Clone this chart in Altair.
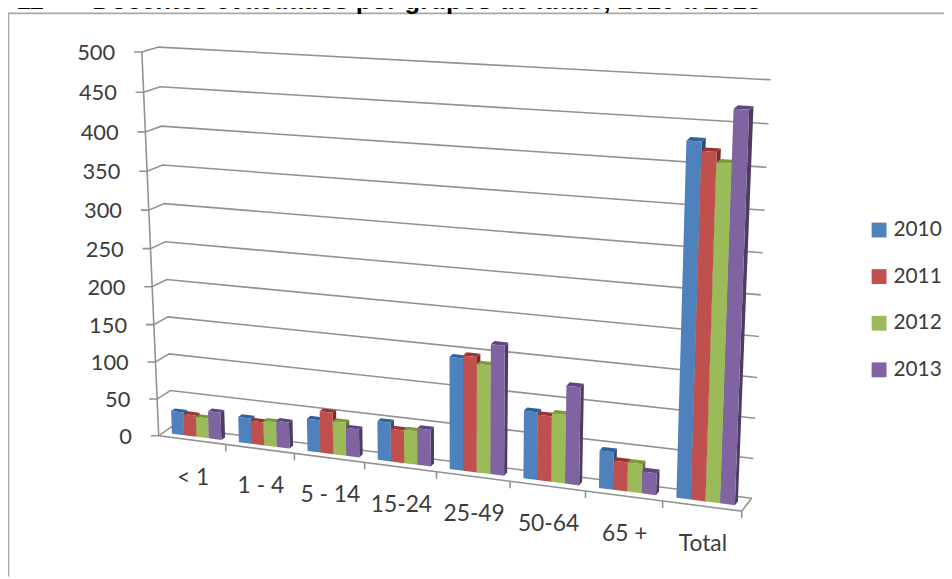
import numpy as np
import pandas as pd
import altair as alt

categories = ["< 1", "1 - 4", "5 - 14", "15-24", "25-49", "50-64", "65 +", "Total"]
years = ["2010", "2011", "2012", "2013"]
v2010 = [31, 34, 43, 51, 145, 87, 48, 434]
v2011 = [29, 31, 55, 43, 149, 84, 37, 423]
v2012 = [27, 33, 44, 44, 140, 88, 37, 411]
v2013 = [37, 35, 37, 48, 167, 125, 28, 474]
series = [v2010, v2011, v2012, v2013]
ticks = [0, 50, 100, 150, 200, 250, 300, 350, 400, 450, 500]
front_col = ["#4f81bd", "#c0504d", "#9bbb59", "#8064a2"]
top_col = ["#2f6299", "#9a3532", "#7a9a3c", "#5f4683"]
side_col = ["#2c4d75", "#772c2a", "#5f7530", "#4d3b62"]
GRID = "#929292"
TXT = "#3c3c3c"


def homography(c):
    # c: corners for (0,0), (1,0), (1,1), (0,1) in (u,v)
    uv = [(0, 0), (1, 0), (1, 1), (0, 1)]
    A, b = [], []
    for (u, v), (x, y) in zip(uv, c):
        A.append([u, v, 1, 0, 0, 0, -u * x, -v * x]); b.append(x)
        A.append([0, 0, 0, u, v, 1, -u * y, -v * y]); b.append(y)
    h = np.linalg.solve(np.array(A, float), np.array(b, float))
    return lambda u, v: np.array([h[0]*u + h[1]*v + h[2], h[3]*u + h[4]*v + h[5]]) / (h[6]*u + h[7]*v + 1)


FRONT = homography([(160, 437), (748, 513), (762, 90), (143, 50)])
BACK = homography([(173, 428), (758, 500), (777, 78), (160, 45)])


def P(pos, val, d):
    u, v = pos / 8, val / 500
    return (1 - d) * FRONT(u, v) + d * BACK(u, v)


rows_front, rows_top, rows_side = [], [], []
G, W, D0, D1 = 0.13, 0.185, 0.36, 0.66
k = 0
for j, s in enumerate(series):
    for i, val in enumerate(s):
        a, b = i + G + j * W, i + G + (j + 1) * W
        quads = [
            (rows_front, [P(a, 0, D0), P(b, 0, D0), P(b, val, D0), P(a, val, D0)], front_col[j]),
            (rows_top, [P(a, val, D0), P(b, val, D0), P(b, val, D1), P(a, val, D1)], top_col[j]),
            (rows_side, [P(b, 0, D0), P(b, 0, D1), P(b, val, D1), P(b, val, D0)], side_col[j]),
        ]
        for rows, pts, col in quads:
            for n, p in enumerate(pts):
                rows.append(dict(id=k, n=n, x=p[0], y=p[1], year=years[j], col=col))
        k += 1

lines = []
l = 0


def polyline(pts):
    global l
    for n, p in enumerate(pts):
        lines.append(dict(id=l, n=n, x=p[0], y=p[1]))
    l += 1


for t in ticks:
    f = P(0, t, 0)
    polyline([f - np.array([8, 0]), f, P(0, t, 1), P(8, t, 1)])
polyline([P(0, 0, 0), P(0, 500, 0)])
polyline([P(0, 0, 0), P(8, 0, 0), P(8, 0, 1)])
for i in range(1, 9):
    f = P(i, 0, 0)
    polyline([f, f + np.array([0, 7])])

ylab = pd.DataFrame([dict(x=P(0, t, 0)[0] - 27, y=P(0, t, 0)[1] + 1, t=str(t)) for t in ticks])
xlab = pd.DataFrame([dict(x=P(i + .5, 0, 0)[0] + 1, y=P(i + .5, 0, 0)[1] + 38, t=c) for i, c in enumerate(categories)])
title = pd.DataFrame([dict(x=93, y=7, t="Docentes evacuados por grupos de idade, 2010 a 2013")])
title2 = pd.DataFrame([dict(x=44, y=7, t="o 11")])
frame = pd.DataFrame([dict(id=0, n=0, x=8.5, y=579), dict(id=0, n=1, x=8.5, y=11), dict(id=0, n=2, x=952, y=11)])

X = alt.X("x:Q", scale=alt.Scale(domain=[8, 952], nice=False, zero=False), axis=None)
Y = alt.Y("y:Q", scale=alt.Scale(domain=[579, 8], nice=False, zero=False), axis=None)
enc = dict(x=X, y=Y, order=alt.Order("n:Q"), detail="id:N")


def faces(df):
    return alt.Chart(pd.DataFrame(df)).mark_line(interpolate="linear-closed", strokeWidth=0, strokeOpacity=0).encode(
        fill=alt.Fill("col:N", scale=None), **enc)


grid = alt.Chart(pd.DataFrame(lines)).mark_line(color=GRID, strokeWidth=1.6).encode(**enc)
frm = alt.Chart(frame).mark_line(color="#a8a8a8", strokeWidth=1.6).encode(**enc)
fronts = alt.Chart(pd.DataFrame(rows_front)).mark_line(interpolate="linear-closed", strokeWidth=0, strokeOpacity=0).encode(
    fill=alt.Fill("year:N", scale=alt.Scale(domain=years, range=front_col),
                  legend=alt.Legend(title=None, orient="none", legendX=868, legendY=211, symbolType="square",
                                    symbolSize=225, symbolStrokeWidth=0, symbolOpacity=1, rowPadding=25, labelFontSize=21,
                                    labelFont="Lato", labelColor=TXT, labelOffset=4)), **enc)


def text(df, size, align="center", font="Lato", weight="normal", color=TXT, baseline="middle"):
    return alt.Chart(df).mark_text(fontSize=size, align=align, font=font, fontWeight=weight, color=color, baseline=baseline).encode(
        x=X, y=Y, text="t:N")


chart = alt.layer(
    frm, grid, faces(rows_side), faces(rows_top), fronts,
    text(ylab, 22, "right"), text(xlab, 23),
    text(title, 26, "left", "Liberation Sans", "bold", "#000000", "alphabetic"),
    text(title2, 26, "right", "Liberation Sans", "bold", "#000000", "alphabetic"),
).resolve_scale(fill="independent").properties(
    width=944, height=571, padding=0, autosize=alt.AutoSizeParams(type="none"), background="white"
).configure_view(stroke=None)

chart.save("out.html", embed_options={"renderer": "svg", "actions": False})
